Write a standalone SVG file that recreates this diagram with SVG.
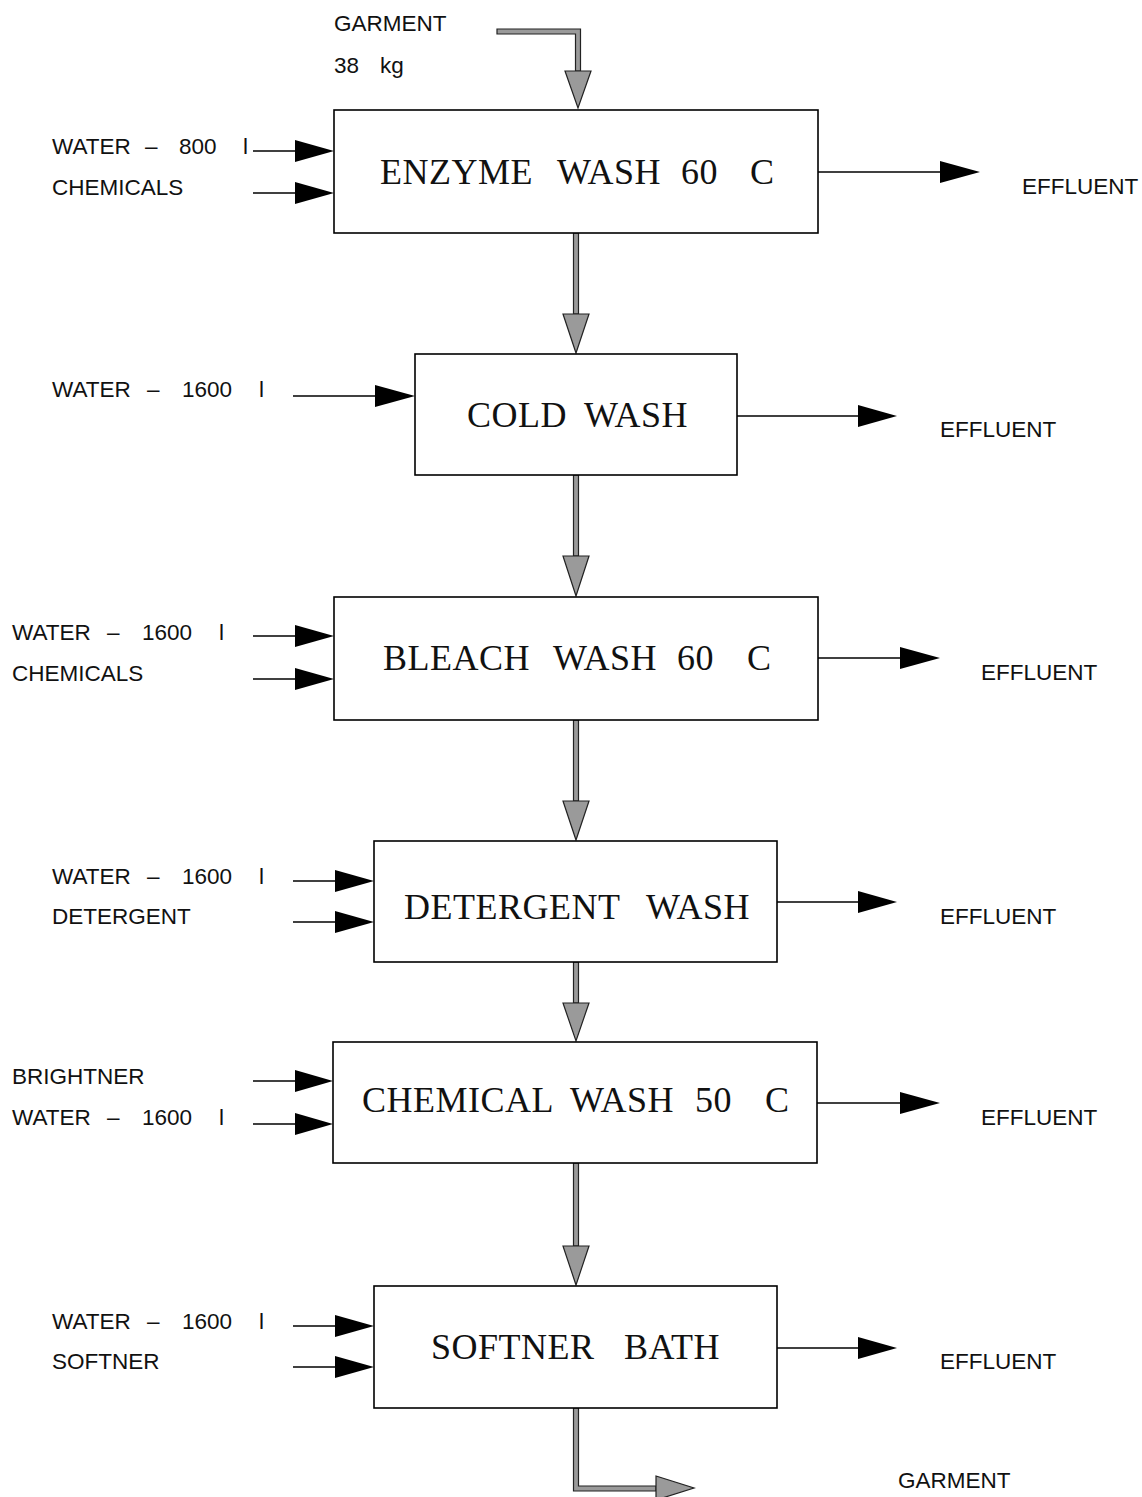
<svg xmlns="http://www.w3.org/2000/svg" width="1142" height="1497" viewBox="0 0 1142 1497">
<defs>
<style>
.box{fill:#fff;stroke:#000;stroke-width:1.6}
.bt{font-family:"Liberation Serif","Times New Roman",serif;font-size:36px;fill:#111;letter-spacing:0.5px}
.lb{font-family:"Liberation Sans",Arial,sans-serif;font-size:22.5px;fill:#111}
.in{stroke:#000;stroke-width:1.6;fill:none}
.hd{fill:#000}
.gs{fill:#9a9a9a;stroke:#222;stroke-width:1.2}
</style>
</defs>
<rect width="1142" height="1497" fill="#fff"/>
<g id="connectors">
<path class="gs" d="M497,29 H580.5 V71 H575.5 V34 H497 Z"/>
<path class="gs" d="M565,71 L591,71 L578,108 Z"/>
<rect class="gs" x="573.5" y="233" width="5" height="81"/>
<path class="gs" d="M563,314 L589,314 L576,353 Z"/>
<rect class="gs" x="573.5" y="475" width="5" height="81"/>
<path class="gs" d="M563,556 L589,556 L576,596 Z"/>
<rect class="gs" x="573.5" y="720" width="5" height="81"/>
<path class="gs" d="M563,801 L589,801 L576,840 Z"/>
<rect class="gs" x="573.5" y="962" width="5" height="41"/>
<path class="gs" d="M563,1003 L589,1003 L576,1041 Z"/>
<rect class="gs" x="573.5" y="1163" width="5" height="83"/>
<path class="gs" d="M563,1246 L589,1246 L576,1285 Z"/>
<path class="gs" d="M573.5,1408 H578.5 V1486 H656 V1491 H573.5 Z"/>
<path class="gs" d="M656,1476 L656,1500 L694,1488 Z"/>
<line class="in" x1="253" y1="151" x2="300" y2="151"/><path class="hd" d="M295,140 L334,151 L295,162 Z"/>
<line class="in" x1="253" y1="193" x2="300" y2="193"/><path class="hd" d="M295,182 L334,193 L295,204 Z"/>
<line class="in" x1="818" y1="172" x2="945" y2="172"/><path class="hd" d="M940,161 L980,172 L940,183 Z"/>
<line class="in" x1="293" y1="396" x2="380" y2="396"/><path class="hd" d="M375,385 L415,396 L375,407 Z"/>
<line class="in" x1="737" y1="416" x2="862" y2="416"/><path class="hd" d="M858,405 L897,416 L858,427 Z"/>
<line class="in" x1="253" y1="636" x2="300" y2="636"/><path class="hd" d="M295,625 L334,636 L295,647 Z"/>
<line class="in" x1="253" y1="679" x2="300" y2="679"/><path class="hd" d="M295,668 L334,679 L295,690 Z"/>
<line class="in" x1="818" y1="658" x2="905" y2="658"/><path class="hd" d="M900,647 L940,658 L900,669 Z"/>
<line class="in" x1="293" y1="881" x2="340" y2="881"/><path class="hd" d="M335,870 L374,881 L335,892 Z"/>
<line class="in" x1="293" y1="922" x2="340" y2="922"/><path class="hd" d="M335,911 L374,922 L335,933 Z"/>
<line class="in" x1="777" y1="902" x2="862" y2="902"/><path class="hd" d="M858,891 L897,902 L858,913 Z"/>
<line class="in" x1="253" y1="1081" x2="300" y2="1081"/><path class="hd" d="M295,1070 L333,1081 L295,1092 Z"/>
<line class="in" x1="253" y1="1124" x2="300" y2="1124"/><path class="hd" d="M295,1113 L333,1124 L295,1135 Z"/>
<line class="in" x1="817" y1="1103" x2="905" y2="1103"/><path class="hd" d="M900,1092 L940,1103 L900,1114 Z"/>
<line class="in" x1="293" y1="1326" x2="340" y2="1326"/><path class="hd" d="M335,1315 L374,1326 L335,1337 Z"/>
<line class="in" x1="293" y1="1367" x2="340" y2="1367"/><path class="hd" d="M335,1356 L374,1367 L335,1378 Z"/>
<line class="in" x1="777" y1="1348" x2="862" y2="1348"/><path class="hd" d="M858,1337 L897,1348 L858,1359 Z"/>
</g>
<g id="enzyme">
<rect class="box" x="334" y="110" width="484" height="123"/>
<text class="bt" y="184"><tspan x="380">ENZYME</tspan> <tspan x="557">WASH</tspan> <tspan x="681">60</tspan> <tspan x="750">C</tspan></text>
</g>
<g id="cold">
<rect class="box" x="415" y="354" width="322" height="121"/>
<text class="bt" y="427"><tspan x="467">COLD</tspan> <tspan x="584">WASH</tspan></text>
</g>
<g id="bleach">
<rect class="box" x="334" y="597" width="484" height="123"/>
<text class="bt" y="670"><tspan x="383">BLEACH</tspan> <tspan x="553">WASH</tspan> <tspan x="677">60</tspan> <tspan x="747">C</tspan></text>
</g>
<g id="detergent">
<rect class="box" x="374" y="841" width="403" height="121"/>
<text class="bt" y="919"><tspan x="404">DETERGENT</tspan> <tspan x="646">WASH</tspan></text>
</g>
<g id="chemical">
<rect class="box" x="333" y="1042" width="484" height="121"/>
<text class="bt" y="1112"><tspan x="362">CHEMICAL</tspan> <tspan x="570">WASH</tspan> <tspan x="695">50</tspan> <tspan x="765">C</tspan></text>
</g>
<g id="softner">
<rect class="box" x="374" y="1286" width="403" height="122"/>
<text class="bt" y="1359"><tspan x="431">SOFTNER</tspan> <tspan x="624">BATH</tspan></text>
</g>
<g id="labels">
<text class="lb" x="334" y="31">GARMENT</text>
<text class="lb" y="73"><tspan x="334">38</tspan> <tspan x="380">kg</tspan></text>
<text class="lb" y="154"><tspan x="52">WATER</tspan> <tspan x="145">–</tspan> <tspan x="179">800</tspan> <tspan x="243">l</tspan></text>
<text class="lb" x="52" y="195">CHEMICALS</text>
<text class="lb" x="1022" y="194">EFFLUENT</text>
<text class="lb" y="397"><tspan x="52">WATER</tspan> <tspan x="147">–</tspan> <tspan x="182">1600</tspan> <tspan x="259">l</tspan></text>
<text class="lb" x="940" y="437">EFFLUENT</text>
<text class="lb" y="640"><tspan x="12">WATER</tspan> <tspan x="107">–</tspan> <tspan x="142">1600</tspan> <tspan x="219">l</tspan></text>
<text class="lb" x="12" y="681">CHEMICALS</text>
<text class="lb" x="981" y="680">EFFLUENT</text>
<text class="lb" y="884"><tspan x="52">WATER</tspan> <tspan x="147">–</tspan> <tspan x="182">1600</tspan> <tspan x="259">l</tspan></text>
<text class="lb" x="52" y="924">DETERGENT</text>
<text class="lb" x="940" y="924">EFFLUENT</text>
<text class="lb" x="12" y="1084">BRIGHTNER</text>
<text class="lb" y="1125"><tspan x="12">WATER</tspan> <tspan x="107">–</tspan> <tspan x="142">1600</tspan> <tspan x="219">l</tspan></text>
<text class="lb" x="981" y="1125">EFFLUENT</text>
<text class="lb" y="1329"><tspan x="52">WATER</tspan> <tspan x="147">–</tspan> <tspan x="182">1600</tspan> <tspan x="259">l</tspan></text>
<text class="lb" x="52" y="1369">SOFTNER</text>
<text class="lb" x="940" y="1369">EFFLUENT</text>
<text class="lb" x="898" y="1488">GARMENT</text>
</g>
</svg>
